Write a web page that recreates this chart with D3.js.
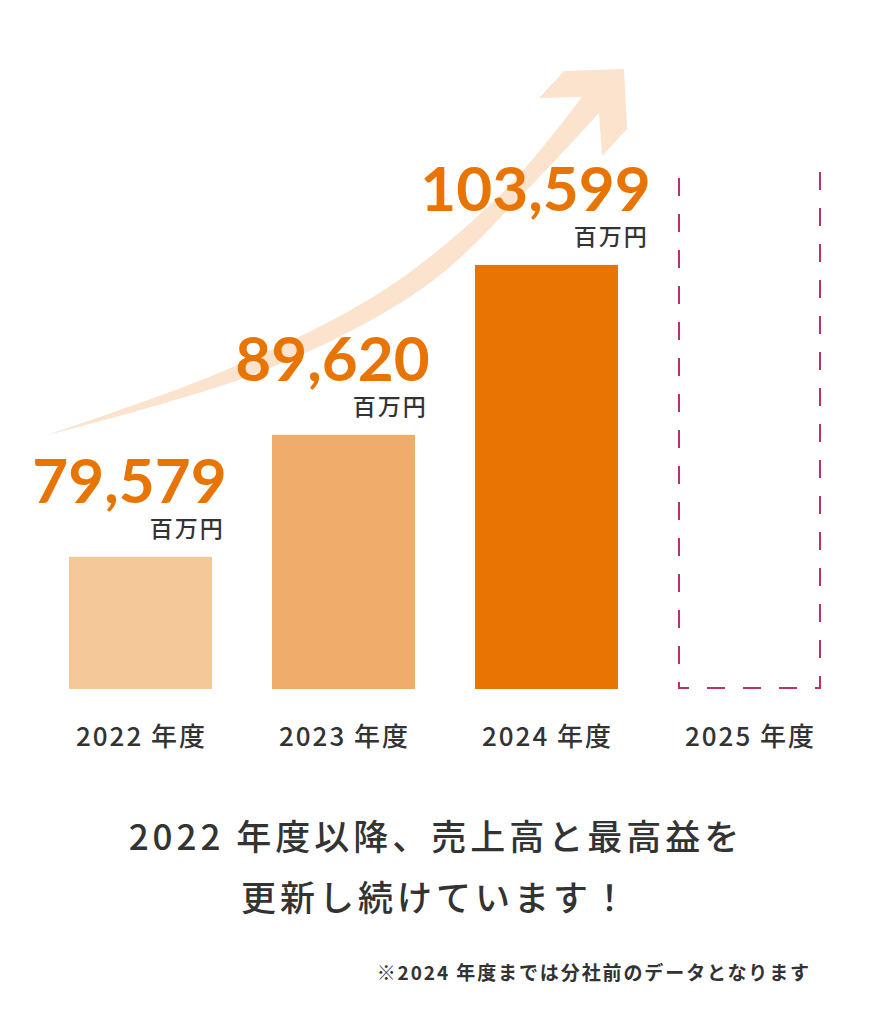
<!DOCTYPE html>
<html><head><meta charset="utf-8">
<script src="https://cdn.jsdelivr.net/npm/d3@7"></script>
<style>
html,body{margin:0;padding:0;background:#fff;}
svg{display:block;}
</style></head>
<body>
<script>
// ---- data ----
const categories = ["2022", "2023", "2024", "2025"];
const categoryLabels = ["2022 年度", "2023 年度", "2024 年度", "2025 年度"];
const salesValues = [79579, 89620, 103599, null]; // 百万円
const valueLabels = ["79,579", "89,620", "103,599"];
const unitLabel = "百万円";
const barColors = ["#f5c899", "#f0ac6a", "#e87503"];
const axisBaseValue = 68700;     // value at chart baseline
const placeholderValue = 111000; // height of the dashed 2025 frame
const captionLines = ["2022 年度以降、売上高と最高益を", "更新し続けています！"];
const footnote = "※2024 年度までは分社前のデータとなります";

// ---- layout ----
const W = 870, H = 1023;
const svg = d3.select("body").append("svg").attr("width", W).attr("height", H);

const x = d3.scaleBand().domain(categories).range([69, 821]).paddingInner(60 / 203).paddingOuter(0);
const y = d3.scaleLinear().domain([axisBaseValue, placeholderValue]).range([689, 175]);

// ---- decorative growth arrow ----
const curve = d3.line().curve(d3.curveCatmullRom.alpha(0.5));
const upper = [[47, 435], [228, 369], [387, 288], [506, 189], [582, 97]];
const head = [[539, 98], [564, 71], [624, 69], [627, 129], [602, 156]];
const lower = [[599, 113], [526, 191], [427, 285], [268, 369], [47, 435]];
const arrowPath = curve(upper) + head.map(p => "L" + p[0] + "," + p[1]).join("") +
  curve(lower).replace(/^M/, "L") + "Z";
svg.append("path").attr("d", arrowPath).attr("fill", "#fbe3cd");

// ---- bars ----
const data = categories.map((c, i) => ({c, v: salesValues[i], label: valueLabels[i], color: barColors[i]}));
const real = data.filter(d => d.v != null);

svg.selectAll("rect.bar").data(real).enter().append("rect")
  .attr("class", "bar")
  .attr("x", d => x(d.c))
  .attr("width", x.bandwidth())
  .attr("y", d => y(d.v))
  .attr("height", d => y(axisBaseValue) - y(d.v))
  .attr("fill", d => d.color);

// ---- dashed placeholder for 2025 ----
const ph = data.filter(d => d.v == null);
ph.forEach(d => {
  const x0 = x(d.c) + 1, x1 = x(d.c) + x.bandwidth() - 1;
  const yb = y(axisBaseValue) - 1, yt = y(placeholderValue);
  const g = svg.append("g").attr("stroke", "#b8306d").attr("stroke-width", 2)
    .attr("fill", "none").attr("stroke-dasharray", "18 18");
  g.append("line").attr("x1", x0).attr("x2", x0).attr("y1", yb).attr("y2", yt).attr("stroke-dashoffset", 12);
  g.append("line").attr("x1", x1).attr("x2", x1).attr("y1", yb + 1).attr("y2", yt - 3).attr("stroke-dashoffset", 5);
  g.append("line").attr("x1", x0 - 1).attr("x2", x1 + 1).attr("y1", yb).attr("y2", yb).attr("stroke-dashoffset", 7);
});

// ---- value labels ----
const cjk = "'Noto Sans CJK JP', 'Noto Sans', sans-serif";
real.forEach(d => {
  const cx = x(d.c) + x.bandwidth() / 2 - 11;
  const t = svg.append("text")
    .attr("x", cx).attr("y", y(d.v) - 54)
    .attr("text-anchor", "middle")
    .attr("font-family", "Lato, 'Open Sans', sans-serif")
    .attr("font-weight", 700).attr("font-size", 62)
    .attr("fill", "#e87503")
    .text(d.label);
  const bb = t.node().getBBox();
  svg.append("text")
    .attr("x", bb.x + bb.width - 2).attr("y", y(d.v) - 20)
    .attr("text-anchor", "end")
    .attr("font-family", cjk).attr("font-weight", 500).attr("font-size", 23)
    .attr("letter-spacing", 2)
    .attr("fill", "#333")
    .text(unitLabel);
});

// ---- category labels ----
svg.selectAll("text.cat").data(categories).enter().append("text")
  .attr("class", "cat")
  .attr("x", d => x(d) + x.bandwidth() / 2 + 1)
  .attr("y", 746)
  .attr("text-anchor", "middle")
  .attr("font-family", cjk).attr("font-weight", 500).attr("font-size", 26)
  .attr("letter-spacing", 2)
  .attr("fill", "#333")
  .text((d, i) => categoryLabels[i]);

// ---- caption ----
svg.selectAll("text.cap").data(captionLines).enter().append("text")
  .attr("class", "cap")
  .attr("x", 436).attr("y", (d, i) => 850 + i * 61)
  .attr("text-anchor", "middle")
  .attr("font-family", cjk).attr("font-weight", 500).attr("font-size", 35)
  .attr("letter-spacing", 4)
  .attr("fill", "#333")
  .text(d => d);

// ---- footnote ----
svg.append("text")
  .attr("x", 811).attr("y", 980)
  .attr("text-anchor", "end")
  .attr("font-family", cjk).attr("font-weight", 700).attr("font-size", 19)
  .attr("letter-spacing", 1.9)
  .attr("fill", "#333")
  .text(footnote);
</script>
</body></html>
